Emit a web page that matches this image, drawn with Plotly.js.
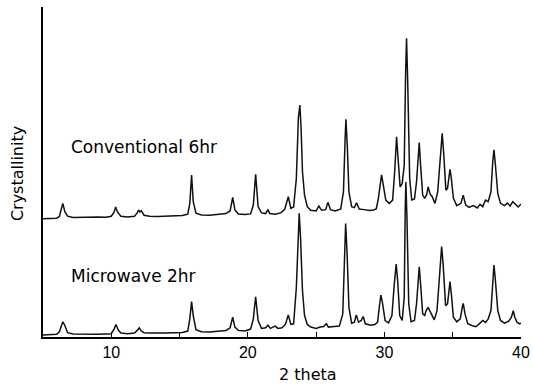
<!DOCTYPE html>
<html>
<head>
<meta charset="utf-8">
<script src="https://cdn.plot.ly/plotly-3.0.1.min.js"></script>
<style>html,body{margin:0;padding:0;background:#fff}#chart{width:533px;height:387px}</style>
</head>
<body>
<div id="chart"></div>
<script>
// Series names
const seriesNames = ["Conventional 6hr", "Microwave 2hr"];

// Conventional 6hr (upper pattern)
const convX = [5.0,5.5,6.0,6.2,6.35,6.45,6.6,6.8,7.2,7.8,8.4,9.0,9.6,10.0,10.2,10.32,10.45,10.7,11.2,11.7,11.9,12.0,12.1,12.2,12.4,12.8,13.4,14.0,14.6,15.2,15.6,15.75,15.88,16.0,16.2,16.6,17.2,17.8,18.4,18.7,18.89,19.05,19.3,19.8,20.2,20.4,20.57,20.75,21.0,21.3,21.47,21.6,22.0,22.4,22.7,22.96,23.15,23.35,23.55,23.7,23.81,23.9,24.0,24.15,24.35,24.6,25.0,25.2,25.4,25.7,25.86,26.05,26.4,26.8,27.0,27.12,27.18,27.28,27.4,27.6,27.8,27.96,28.15,28.5,28.9,29.2,29.4,29.55,29.7,29.79,29.9,30.1,30.35,30.6,30.75,30.89,31.0,31.15,31.3,31.45,31.55,31.62,31.7,31.85,32.0,32.2,32.35,32.48,32.55,32.65,32.8,32.95,33.1,33.2,33.35,33.5,33.7,33.9,34.05,34.15,34.23,34.35,34.5,34.62,34.72,34.8,34.9,35.05,35.3,35.6,35.77,35.95,36.2,36.5,36.8,37.0,37.2,37.4,37.6,37.8,37.93,38.02,38.12,38.3,38.5,38.8,39.0,39.2,39.4,39.6,39.8,40.0];
const convY = [35.8,35.9,36.0,36.5,38.5,40.5,38.0,36.6,36.2,36.3,36.2,36.4,36.3,36.6,37.8,39.4,37.9,36.6,36.4,36.6,37.6,38.5,37.9,38.2,36.9,36.6,36.5,36.6,36.7,36.8,37.2,40.5,49.1,41.0,37.5,37.0,36.9,37.2,37.4,38.2,42.3,38.5,37.3,37.1,37.3,40.0,49.3,39.5,37.6,37.4,38.6,37.4,37.2,37.6,38.7,42.5,39.0,39.4,48.0,66.5,70.3,63.0,50.0,43.0,39.5,38.4,38.2,39.7,38.4,38.6,40.8,38.6,38.2,38.8,44.0,60.0,66.0,58.0,44.0,39.5,39.2,40.7,38.8,38.6,38.3,38.5,38.8,41.8,47.5,49.1,46.5,41.5,40.5,41.5,50.0,60.7,54.0,45.5,46.5,52.0,80.0,90.5,78.0,48.0,41.5,41.8,47.0,57.0,58.9,52.0,43.0,42.0,43.2,45.5,43.3,42.5,40.5,44.0,52.0,59.5,61.7,55.0,44.5,45.0,49.5,50.8,48.0,42.0,39.8,40.5,43.0,40.0,39.3,39.8,39.1,40.2,39.5,41.5,41.0,44.0,53.0,56.7,52.5,43.5,40.5,39.8,40.6,39.7,41.0,40.2,39.4,40.3];

// Microwave 2hr (lower pattern)
const microX = [5.0,5.5,6.0,6.2,6.35,6.45,6.6,6.8,7.2,7.8,8.4,9.0,9.6,10.0,10.2,10.34,10.5,10.7,11.2,11.7,11.9,12.05,12.2,12.4,12.8,13.4,14.0,14.6,15.2,15.6,15.75,15.88,16.0,16.2,16.6,17.2,17.8,18.4,18.7,18.89,19.05,19.3,19.8,20.2,20.4,20.57,20.75,21.0,21.3,21.47,21.65,22.0,22.2,22.5,22.75,22.96,23.15,23.35,23.55,23.68,23.76,23.86,24.0,24.15,24.35,24.6,25.0,25.3,25.55,25.75,25.9,26.3,26.7,26.95,27.08,27.16,27.26,27.4,27.6,27.8,27.94,28.1,28.3,28.45,28.6,29.0,29.3,29.5,29.65,29.74,29.85,30.05,30.3,30.55,30.72,30.86,30.97,31.12,31.3,31.45,31.52,31.57,31.65,31.78,31.95,32.2,32.35,32.48,32.55,32.65,32.8,32.95,33.05,33.2,33.32,33.45,33.65,33.85,34.0,34.12,34.19,34.3,34.48,34.62,34.72,34.8,34.9,35.05,35.3,35.55,35.7,35.77,35.9,36.1,36.4,36.7,37.0,37.2,37.4,37.6,37.8,37.93,38.02,38.12,38.3,38.5,38.8,39.1,39.3,39.43,39.55,39.7,39.9,40.0];
const microY = [0.6,0.7,0.8,1.6,3.6,4.6,3.5,1.3,0.9,0.8,0.9,0.8,0.9,1.0,2.4,3.8,2.2,1.2,1.0,1.2,2.0,2.8,1.8,1.3,1.2,1.1,1.2,1.3,1.4,1.8,5.5,10.7,6.5,2.2,1.6,1.5,1.8,2.0,2.8,6.0,3.0,2.0,1.8,2.4,5.5,12.2,5.0,2.6,2.8,3.6,2.6,3.3,2.6,2.8,3.8,6.7,3.8,4.0,15.0,33.0,37.5,30.0,14.0,6.5,3.8,3.0,2.6,3.0,3.2,4.0,3.0,3.2,3.3,7.0,28.0,34.4,26.0,9.0,4.2,4.5,6.7,4.5,5.0,6.2,4.0,3.6,3.8,4.5,10.0,12.7,10.5,5.0,4.3,6.5,16.0,22.1,17.0,6.5,5.0,12.0,38.0,47.0,36.0,10.0,4.6,5.0,10.0,19.5,21.3,16.0,7.0,6.5,8.0,9.0,8.0,6.5,5.2,8.0,16.0,25.0,27.4,22.0,9.5,10.0,15.0,16.8,13.0,6.0,4.6,5.5,9.0,10.2,7.0,4.0,3.5,3.1,4.2,5.0,4.4,5.5,8.0,18.0,21.8,17.5,8.0,5.0,4.2,4.8,6.0,8.0,6.0,4.5,4.0,4.2];

// Axis labels and ticks
const xTickVals = [10, 20, 30, 40];
const xTickText = ["10", "20", "30", "40"];
const xTitle = "2 theta";
const yTitle = "Crystallinity";

const lineStyle = {color: "#111111", width: 1.5};
const traces = [
  {x: convX, y: convY, name: seriesNames[0], type: "scatter", mode: "lines", line: lineStyle, hoverinfo: "skip"},
  {x: microX, y: microY, name: seriesNames[1], type: "scatter", mode: "lines", line: lineStyle, hoverinfo: "skip"}
];

const layout = {
  width: 533, height: 387,
  margin: {l: 43, r: 12, t: 7, b: 50, pad: 0},
  paper_bgcolor: "#ffffff", plot_bgcolor: "#ffffff",
  showlegend: false,
  font: {family: "DejaVu Sans, Liberation Sans, sans-serif", color: "#000000"},
  xaxis: {
    range: [5, 40], showgrid: false, zeroline: false,
    showline: true, linecolor: "#000000", linewidth: 1.5,
    tickmode: "array", tickvals: xTickVals, ticktext: xTickText,
    ticks: "inside", ticklen: 5, tickcolor: "#000000", tickwidth: 1,
    minor: {dtick: 5, tick0: 0, ticks: "inside", ticklen: 5, tickcolor: "#000000", tickwidth: 1},
    tickfont: {family: "Liberation Sans, Arial, sans-serif", size: 16, color: "#000000"},
    fixedrange: true
  },
  yaxis: {
    range: [0, 100], showgrid: false, zeroline: false,
    showline: true, linecolor: "#000000", linewidth: 2,
    showticklabels: false, ticks: "", fixedrange: true
  },
  annotations: [
    {text: seriesNames[0], xref: "x", yref: "y", x: 6.93, y: 57.6, xanchor: "left", yanchor: "middle", showarrow: false,
     font: {family: "DejaVu Sans", size: 17, color: "#000000"}},
    {text: seriesNames[1], xref: "x", yref: "y", x: 6.93, y: 18.5, xanchor: "left", yanchor: "middle", showarrow: false,
     font: {family: "DejaVu Sans", size: 17, color: "#000000"}},
    {text: xTitle, xref: "paper", yref: "paper", x: 0.554, y: -0.115, xanchor: "center", yanchor: "middle", showarrow: false,
     font: {family: "DejaVu Sans", size: 16, color: "#000000"}},
    {text: yTitle, xref: "paper", yref: "paper", x: -0.052, y: 0.494, xanchor: "center", yanchor: "middle", showarrow: false, textangle: -90,
     font: {family: "DejaVu Sans", size: 16, color: "#000000"}}
  ]
};

Plotly.newPlot("chart", traces, layout, {staticPlot: true, displayModeBar: false});
</script>
</body>
</html>
